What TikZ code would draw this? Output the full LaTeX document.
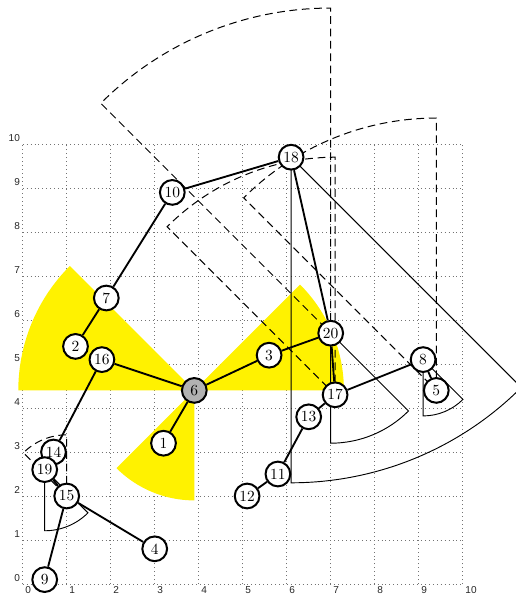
\documentclass[tikz,border=0pt]{standalone}
\usepackage{fontspec}
\newfontfamily\labfont{Liberation Sans}
\pgfdeclarelayer{bg}
\pgfsetlayers{bg,main}
\begin{document}
\begin{tikzpicture}[
  vtx/.style={circle, draw, line width=1.3pt, fill=white, minimum size=16pt, inner sep=0.5pt, font=\normalsize},
  edge/.style={line width=1.2pt},
  thinsec/.style={line width=0.6pt},
  dashsec/.style={line width=0.65pt, dash pattern=on 5pt off 3pt},
  hl/.style={fill=yellow},
  ticklab/.style={font=\labfont\fontsize{6.5}{7}\selectfont, inner sep=1.6pt, text=black!85},
  gridline/.style={dotted, black!55, line width=0.55pt}
]
\useasboundingbox (-0.516,-0.318) rectangle (11.211,13.273);
% positions
\coordinate (p1) at (3.2,3.2);
\coordinate (p2) at (1.2,5.4);
\coordinate (p3) at (5.6,5.2);
\coordinate (p4) at (3.0,0.8);
\coordinate (p5) at (9.4,4.4);
\coordinate (p6) at (3.9,4.4);
\coordinate (p7) at (1.9,6.5);
\coordinate (p8) at (9.1,5.1);
\coordinate (p9) at (0.5,0.1);
\coordinate (p10) at (3.4,8.9);
\coordinate (p11) at (5.8,2.5);
\coordinate (p12) at (5.1,2.0);
\coordinate (p13) at (6.5,3.8);
\coordinate (p14) at (0.7,3.0);
\coordinate (p15) at (1.0,2.0);
\coordinate (p16) at (1.8,5.1);
\coordinate (p17) at (7.1,4.3);
\coordinate (p18) at (6.1,9.7);
\coordinate (p19) at (0.5,2.6);
\coordinate (p20) at (7.0,5.7);
% nodes
\node[vtx] (n1) at (p1) {1};
\node[vtx] (n2) at (p2) {2};
\node[vtx] (n3) at (p3) {3};
\node[vtx] (n4) at (p4) {4};
\node[vtx] (n5) at (p5) {5};
\node[vtx, fill=black!30] (n6) at (p6) {6};
\node[vtx] (n7) at (p7) {7};
\node[vtx] (n8) at (p8) {8};
\node[vtx] (n9) at (p9) {9};
\node[vtx] (n10) at (p10) {10};
\node[vtx] (n11) at (p11) {11};
\node[vtx] (n12) at (p12) {12};
\node[vtx] (n13) at (p13) {13};
\node[vtx] (n14) at (p14) {14};
\node[vtx] (n15) at (p15) {15};
\node[vtx] (n16) at (p16) {16};
\node[vtx] (n17) at (p17) {17};
\node[vtx] (n18) at (p18) {18};
\node[vtx] (n19) at (p19) {19};
\node[vtx] (n20) at (p20) {20};
\begin{pgfonlayer}{bg}
% grid and tick labels
\draw[gridline] (0,0) grid (10,10);
\foreach \i in {0,...,10} {
  \node[ticklab, anchor=north west] (bx\i) at (\i,0) {\i};
  \node[ticklab, anchor=south east] (ly\i) at (0,\i) {\i};
}
% yellow sectors at 6
\fill[hl] (p6) -- ++(135:4) arc[start angle=135, end angle=180, radius=4] -- cycle;
\fill[hl] (p6) -- ++(0:3.4) arc[start angle=0, end angle=45, radius=3.4] -- cycle;
\fill[hl] (p6) -- ++(225:2.5) arc[start angle=225, end angle=270, radius=2.5] -- cycle;
% solid sectors
\draw[thinsec] (p18) -- ++(-90:7.4) arc[start angle=-90, end angle=-45, radius=7.4] -- cycle;
\draw[thinsec] (p20) -- ++(-90:2.5) arc[start angle=-90, end angle=-45, radius=2.5] -- cycle;
\draw[thinsec] (p8) -- ++(-90:1.28) arc[start angle=-90, end angle=-45, radius=1.28] -- cycle;
\draw[thinsec] (p19) -- ++(-90:1.39) arc[start angle=-90, end angle=-45, radius=1.39] -- cycle;
% dashed sectors
\draw[dashsec] (p20) -- ++(90:7.39) arc[start angle=90, end angle=135, radius=7.39] -- cycle;
\draw[dashsec] (p5) -- ++(90:6.19) arc[start angle=90, end angle=135, radius=6.19] -- cycle;
\draw[dashsec] (p17) -- ++(90:5.4) arc[start angle=90, end angle=135, radius=5.4] -- cycle;
\draw[dashsec] (p15) -- ++(90:1.39) arc[start angle=90, end angle=135, radius=1.39] -- cycle;
% edges
\draw[edge] (n10) -- (n18);
\draw[edge] (n10) -- (n7);
\draw[edge] (n7) -- (n2);
\draw[edge] (n16) -- (n6);
\draw[edge] (n16) -- (n14);
\draw[edge] (n6) -- (n1);
\draw[edge] (n6) -- (n3);
\draw[edge] (n3) -- (n20);
\draw[edge] (n20) -- (n18);
\draw[edge] (n20) -- (n17);
\draw[edge] (n17) -- (n8);
\draw[edge] (n8) -- (n5);
\draw[edge] (n17) -- (n13);
\draw[edge] (n13) -- (n11);
\draw[edge] (n11) -- (n12);
\draw[edge] (n14) -- (n19);
\draw[edge] (n19) -- (n15);
\draw[edge] (n15) -- (n4);
\draw[edge] (n15) -- (n9);
\end{pgfonlayer}
\end{tikzpicture}
\end{document}
